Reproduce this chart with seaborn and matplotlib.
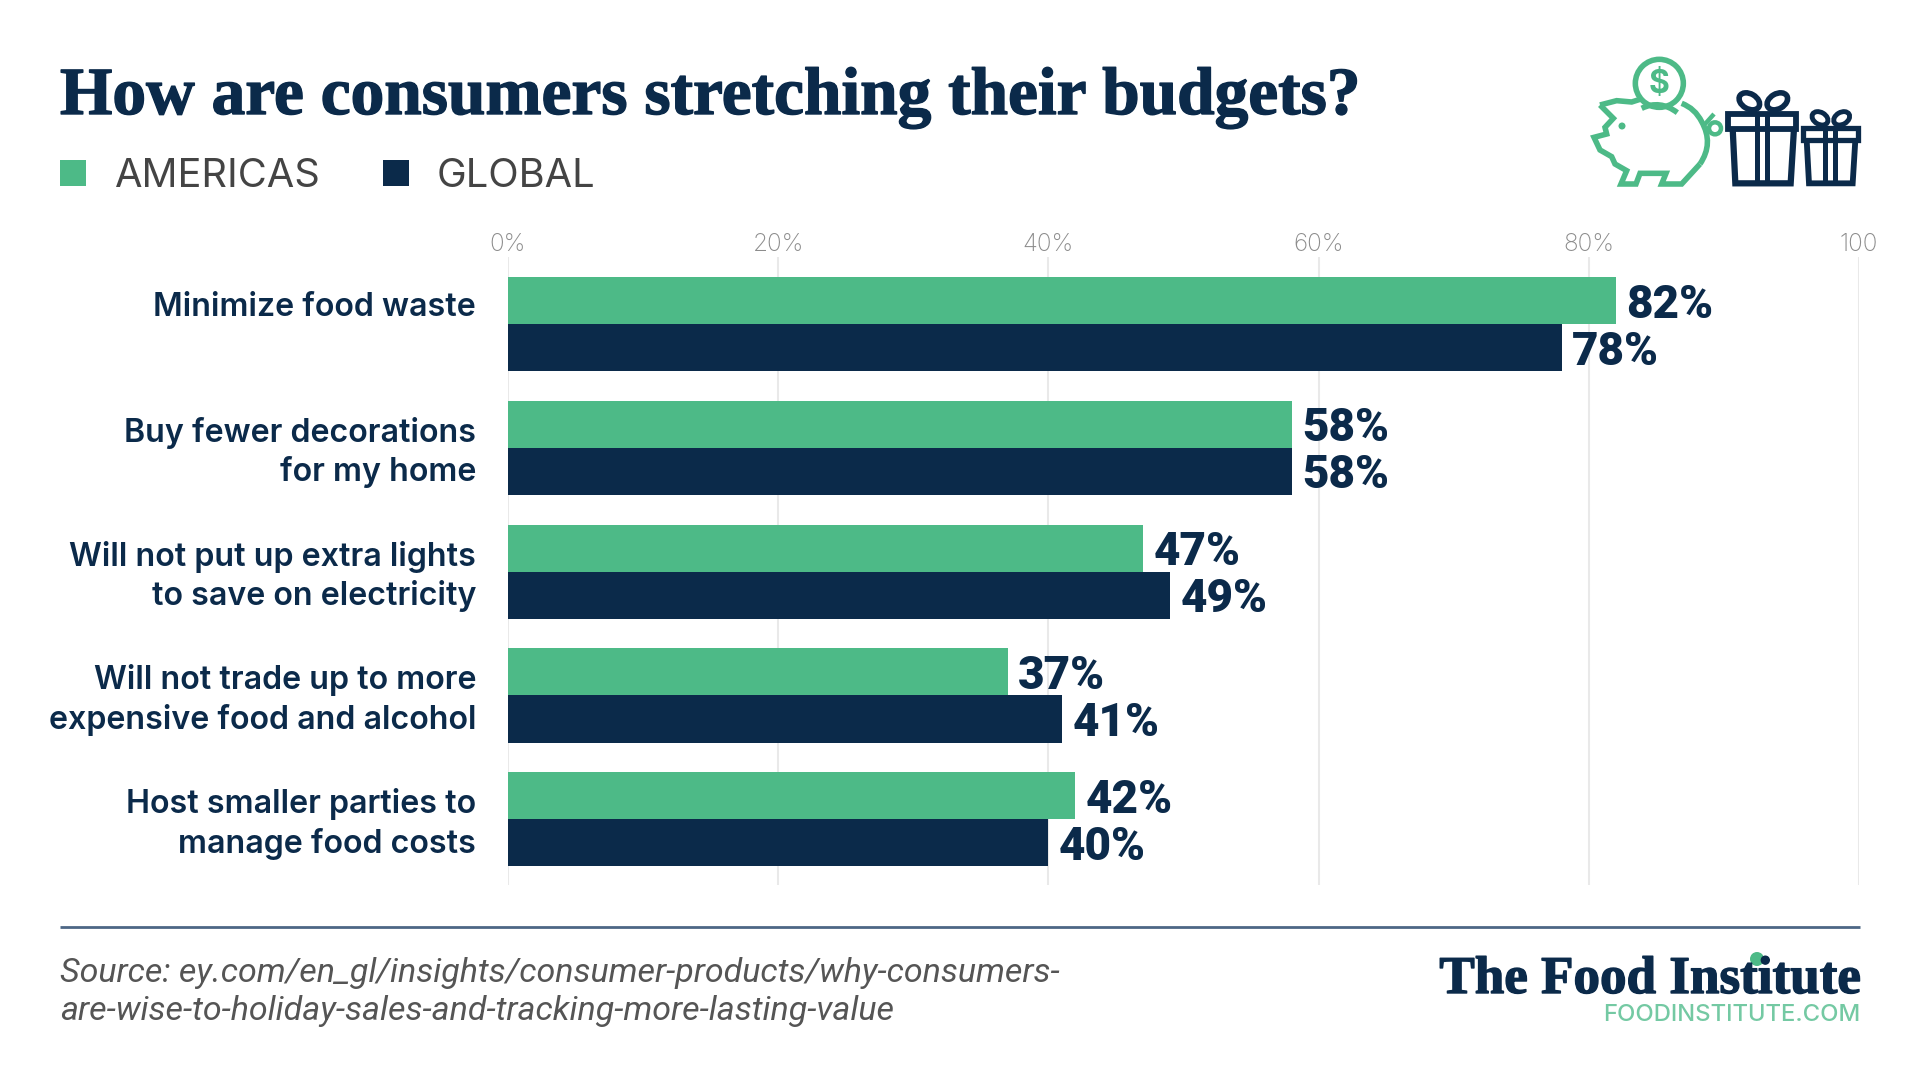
import matplotlib
matplotlib.use('Agg')
import numpy as np
import pandas as pd
import matplotlib.pyplot as plt
import matplotlib.patheffects as pe
import seaborn as sns
from matplotlib.patches import Circle, PathPatch, Polygon, Rectangle, Ellipse
from matplotlib.path import Path
from matplotlib.transforms import ScaledTranslation

GREEN = '#4dba87'
NAVY = '#0b2a4a'

categories = ['Minimize food waste',
              'Buy fewer decorations\nfor my home',
              'Will not put up extra lights\nto save on electricity',
              'Will not trade up to more\nexpensive food and alcohol',
              'Host smaller parties to\nmanage food costs']
americas = [82, 58, 47, 37, 42]
global_vals = [78, 58, 49, 41, 40]
tick_values = [0, 20, 40, 60, 80, 100]
tick_labels = ['0%', '20%', '40%', '60%', '80%', '100']

W, H = 1920, 1080


def px_rect(left, top, right, bottom):
    return [left / W, 1 - bottom / H, (right - left) / W, (bottom - top) / H]


sns.set_theme(style='white')
plt.rcParams['font.family'] = ['Inter', 'Roboto', 'DejaVu Sans']

df = pd.DataFrame({'category': categories * 2,
                   'value': americas + global_vals,
                   'region': ['AMERICAS'] * 5 + ['GLOBAL'] * 5})

fig = plt.figure(figsize=(W / 100, H / 100), dpi=100, facecolor='white')
ax = fig.add_axes(px_rect(508, 257, 1859, 885))

sns.barplot(data=df, y='category', x='value', hue='region', ax=ax, orient='h',
            palette={'AMERICAS': GREEN, 'GLOBAL': NAVY}, width=0.76, gap=0,
            saturation=1, legend=False, zorder=3, linewidth=0)

ax.set_xlim(0, 100)
ax.set_ylim(4.53, -0.54)
ax.set_xlabel('')
ax.set_ylabel('')
ax.xaxis.tick_top()
ax.set_xticks(tick_values)
ax.set_xticklabels(tick_labels, fontsize=17.5, color='#8c8c8c', fontweight='light')
ax.tick_params(axis='x', length=0, pad=1)
ax.tick_params(axis='y', length=0, pad=23)
for i, lab in enumerate(ax.get_yticklabels()):
    lab.set_fontsize(23.2)
    lab.set_color(NAVY)
    lab.set_fontweight('semibold')
    lab.set_ha('right')
    lab.set_linespacing(1.3)
    # the one-line label sits level with the green bar in the original
    up = 14 if i == 0 else 1.8
    lab.set_transform(lab.get_transform() + ScaledTranslation(0, up / 72, fig.dpi_scale_trans))
ax.grid(axis='x', color='#e9e9e9', lw=1.5, zorder=0)
ax.grid(axis='y', visible=False)
sns.despine(ax=ax, left=True, bottom=True, top=True, right=True)

for container in ax.containers:
    texts = ax.bar_label(container, fmt='%d%%', padding=7, fontsize=33,
                         fontweight='black', color=NAVY, family=['Roboto', 'DejaVu Sans'])
    for t in texts:
        t.xyann = (7.5, -3)

# everything outside the plot is placed in pixels on an overlay
ov = fig.add_axes([0, 0, 1, 1], facecolor='none', zorder=5)
ov.set_xlim(0, W)
ov.set_ylim(H, 0)
ov.axis('off')

ov.text(60, 114, 'How are consumers stretching their budgets?', fontsize=48.5,
        fontweight='bold', color=NAVY, family=['Liberation Serif'], va='baseline',
        path_effects=[pe.withStroke(linewidth=1, foreground=NAVY)])

ov.add_patch(Rectangle((60, 160), 26, 26, color=GREEN, lw=0))
ov.text(115, 187, 'AMERICAS', fontsize=28.7, color='#444444', va='baseline')
ov.add_patch(Rectangle((383, 160), 26, 26, color=NAVY, lw=0))
ov.text(437, 187, 'GLOBAL', fontsize=28.7, color='#444444', va='baseline')

ov.plot([60, 1860], [927, 927], color='#4d6785', lw=2, solid_capstyle='butt')
ov.text(60, 982, 'Source: ey.com/en_gl/insights/consumer-products/why-consumers-',
        fontsize=24.5, style='italic', color='#555555', va='baseline',
        family=['Roboto'])
ov.text(60, 1020, 'are-wise-to-holiday-sales-and-tracking-more-lasting-value',
        fontsize=24.5, style='italic', color='#555555', va='baseline',
        family=['Roboto'])

ov.text(1860, 993, 'The Food Institute', fontsize=38.2, fontweight='bold', color=NAVY,
        ha='right', va='baseline', family=['Liberation Serif'],
        path_effects=[pe.withStroke(linewidth=1, foreground=NAVY)])
ov.add_patch(Circle((1757, 959), 7, color=GREEN, lw=0))
ov.text(1860, 1021, 'FOODINSTITUTE.COM', fontsize=17.2, color='#74c9a3', ha='right',
        va='baseline', fontweight='medium')


# icon
def ix(x):
    return 1560 + x / 3


def iy(y):
    return 40 + y / 3


def outline(points, color, lw=4, closed=False):
    pts = [(ix(a), iy(b)) for a, b in points]
    ov.add_patch(Polygon(pts, closed=closed, fill=False, edgecolor=color, lw=lw,
                         joinstyle='miter'))


def curve(points, color, lw=4):
    pts = [(ix(a), iy(b)) for a, b in points]
    codes = [Path.MOVETO] + [Path.CURVE3] * (len(pts) - 1)
    ov.add_patch(PathPatch(Path(pts, codes), fill=False, edgecolor=color, lw=lw))


pig = [(120, 195), (170, 182), (215, 186), (240, 178)]
outline(pig, GREEN)
outline([(120, 195), (160, 235), (135, 262), (140, 282), (102, 292), (120, 330),
         (155, 350), (165, 372), (200, 392), (183, 432), (228, 432), (240, 400),
         (318, 400), (305, 432), (365, 432), (420, 372)], GREEN)
curve([(420, 372), (462, 310), (425, 245), (405, 205), (365, 190)], GREEN)
curve([(245, 205), (300, 178), (352, 218)], GREEN)
ov.add_patch(Circle((ix(298), iy(130)), 24, fill=False, edgecolor=GREEN, lw=4))
ov.text(ix(298), iy(132), '$', fontsize=23, fontweight='bold', color=GREEN,
        ha='center', va='center')
ov.add_patch(Circle((ix(186), iy(258)), 3.5, color=GREEN, lw=0))
ov.add_patch(Circle((ix(465), iy(265)), 6, fill=False, edgecolor=GREEN, lw=3.2))
outline([(430, 258), (462, 222)], GREEN, lw=3.2)

# large gift
ov.add_patch(Rectangle((ix(505), iy(222)), 203 / 3, 44 / 3, fill=False, edgecolor=NAVY, lw=4.2))
outline([(518, 265), (526, 430), (692, 430), (702, 265)], NAVY, lw=4.5)
ov.add_patch(Rectangle((ix(584), iy(222)), 12 / 3 + 1, 210 / 3, color=NAVY, lw=0))
ov.add_patch(Rectangle((ix(614), iy(222)), 12 / 3 + 1, 210 / 3, color=NAVY, lw=0))
ov.add_patch(Ellipse((ix(568), iy(184)), 22, 15, angle=30, fill=False, edgecolor=NAVY, lw=4))
ov.add_patch(Ellipse((ix(652), iy(184)), 22, 15, angle=-30, fill=False, edgecolor=NAVY, lw=4))

# small gift
ov.add_patch(Rectangle((ix(730), iy(264)), 163 / 3, 36 / 3, fill=False, edgecolor=NAVY, lw=3.8))
outline([(740, 300), (747, 430), (878, 430), (886, 300)], NAVY, lw=4.2)
ov.add_patch(Rectangle((ix(790), iy(264)), 5, 168 / 3, color=NAVY, lw=0))
ov.add_patch(Rectangle((ix(820), iy(264)), 5, 168 / 3, color=NAVY, lw=0))
ov.add_patch(Ellipse((ix(780), iy(235)), 17, 12, angle=30, fill=False, edgecolor=NAVY, lw=3.5))
ov.add_patch(Ellipse((ix(845), iy(235)), 17, 12, angle=-30, fill=False, edgecolor=NAVY, lw=3.5))

fig.savefig('out.png', dpi=100, facecolor='white')
